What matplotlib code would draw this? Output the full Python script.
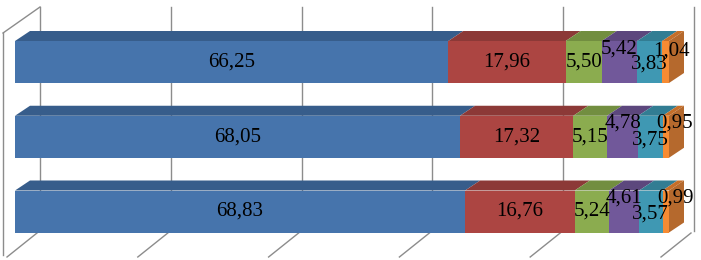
import numpy as np
import matplotlib.pyplot as plt
from matplotlib.patches import Polygon

# data: three stacked bars (top to bottom), six parts each, in %
rows = [0, 1, 2]
values = [
    [66.25, 17.96, 5.50, 5.42, 3.83, 1.04],
    [68.05, 17.32, 5.15, 4.78, 3.75, 0.95],
    [68.83, 16.76, 5.24, 4.61, 3.57, 0.99],
]
labels = [[f"{v:.2f}".replace(".", ",") for v in r] for r in values]
ticks = [0, 20, 40, 60, 80, 100]

# colours: front face, top face
front = ["#4674AC", "#AC4542", "#8BAC4F", "#71589A", "#3F98B3", "#F68B33"]
top = ["#375D8B", "#8C3937", "#728E40", "#5C477D", "#327D93", "#C66E28"]
side_col = "#B5692D"

# label nudges in pixels (dx, dy) for the small parts
nudge = [
    [(0, 0), (0, 0), (0, 0), (0, -13), (0, 2), (6, -11)],
    [(0, 0), (0, 0), (0, 0), (0, -14), (0, 3), (9, -14)],
    [(0, 0), (0, 0), (0, 0), (0, -13), (0, 3), (10, -13)],
]

W, H = 701, 260
sx = 6.54      # px per percent
x0px = 15      # px of value 0 on the front plane
sy = 74.75     # px per row
y0px = 62      # px of first row centre

fig = plt.figure(figsize=(W / 100, H / 100), dpi=100)
ax = fig.add_axes([0, 0, 1, 1])
ax.set_xlim(-x0px / sx, (W - x0px) / sx)
ax.set_ylim((H - y0px) / sy, -y0px / sy)
ax.axis("off")

def px_x(p):
    return p / sx

def px_y(p):
    return p / sy

half = px_y(21)
ddx, ddy = px_x(15), -px_y(10)

# walls and grid
grid_c = "#8C8C8C"
wall_dx = px_x(25)
front_dx = px_x(-12)
y_top = px_y(7 - y0px)
y_back = px_y(231 - y0px)
y_front = px_y(257 - y0px)
for t in ticks:
    ax.plot([t + wall_dx, t + wall_dx], [y_top, y_back], color=grid_c, lw=1, zorder=1)
    ax.plot([t + front_dx + px_x(4), t + wall_dx - px_x(3)], [y_front, y_back + px_y(2)],
            color=grid_c, lw=1, zorder=1)
ax.plot([front_dx, front_dx], [px_y(33 - y0px), px_y(255 - y0px)], color=grid_c, lw=1, zorder=1)
ax.plot([front_dx, wall_dx], [px_y(33 - y0px), y_top], color=grid_c, lw=1, zorder=1)

# bars
for r, vals in zip(rows, values):
    cum = np.concatenate([[0], np.cumsum(vals)])
    yt, yb = r - half, r + half
    for i, v in enumerate(vals):
        a, b = cum[i], cum[i + 1]
        ax.add_patch(Polygon([(a, yt), (b, yt), (b, yb), (a, yb)], closed=True,
                             fc=front[i], ec="none", zorder=3))
        ax.add_patch(Polygon([(a, yt), (b, yt), (b + ddx, yt + ddy), (a + ddx, yt + ddy)],
                             closed=True, fc=top[i], ec="none", zorder=3))
    e = cum[-1]
    ax.add_patch(Polygon([(e, yt), (e + ddx, yt + ddy), (e + ddx, yb + ddy), (e, yb)],
                         closed=True, fc=side_col, ec="none", zorder=3))
    for i, v in enumerate(vals):
        nx, ny = nudge[r][i]
        ax.text((cum[i] + cum[i + 1]) / 2 + px_x(nx), r + px_y(ny), labels[r][i],
                ha="center", va="center", fontsize=15, family="Liberation Serif",
                color="black", zorder=5)

fig.savefig("out.png", dpi=100)
